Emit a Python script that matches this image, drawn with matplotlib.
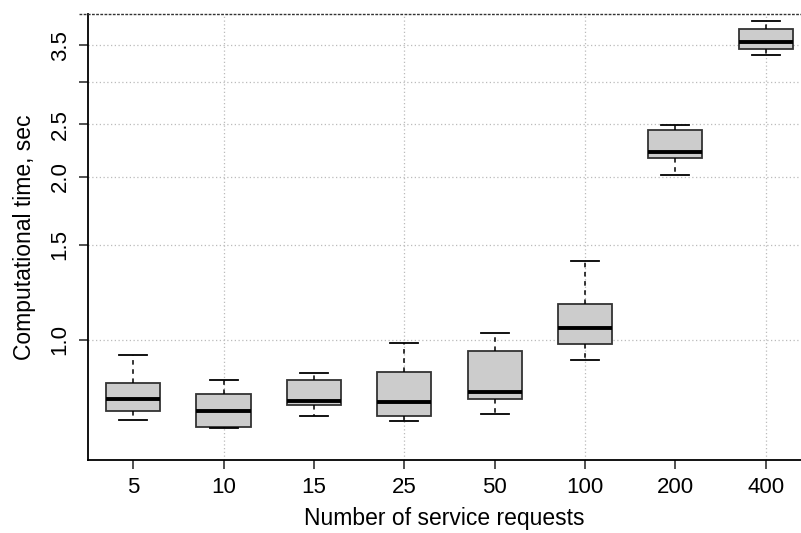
import matplotlib
matplotlib.use("Agg")
import matplotlib.pyplot as plt
from matplotlib.lines import Line2D
from matplotlib.ticker import NullLocator, FixedLocator

plt.rcParams['font.family'] = ['Liberation Sans', 'DejaVu Sans']

# number of service requests (categories)
requests = ["5", "10", "15", "25", "50", "100", "200", "400"]

# box statistics (seconds)
whisk_lo = [0.711, 0.688, 0.722, 0.709, 0.731, 0.920, 2.013, 3.359]
q1 = [0.740, 0.689, 0.757, 0.725, 0.779, 0.984, 2.167, 3.454]
medians = [0.779, 0.740, 0.772, 0.769, 0.800, 1.052, 2.220, 3.550]
q3 = [0.834, 0.793, 0.845, 0.872, 0.953, 1.163, 2.437, 3.760]
whisk_hi = [0.936, 0.844, 0.869, 0.987, 1.031, 1.398, 2.492, 3.890]

y_ticks = [1.0, 1.5, 2.0, 2.5, 3.0, 3.5]
y_labels = ["1.0", "1.5", "2.0", "2.5", "", "3.5"]

stats = []
for i in range(len(requests)):
    stats.append({
        "label": requests[i],
        "whislo": whisk_lo[i],
        "q1": q1[i],
        "med": medians[i],
        "q3": q3[i],
        "whishi": whisk_hi[i],
        "fliers": [],
    })

fig = plt.figure(figsize=(8.01, 5.33), dpi=100)
ax = fig.add_axes([88 / 801, 1 - 460 / 533, 1 - 88 / 801, (460 - 14) / 533])

ax.set_yscale('log')
ax.set_ylim(0.6, 4.0)
ax.set_xlim(0.5, 8.39)

# grid first so boxes sit on top
for y in y_ticks:
    ax.axhline(y, color='#bbbbbb', lw=0.9, ls=(0, (1, 2)), zorder=0)
for x in [2, 4, 6, 8]:
    ax.axvline(x, color='#bbbbbb', lw=0.9, ls=(0, (1, 2)), zorder=0)

positions = list(range(1, len(requests) + 1))
ax.bxp(stats, positions=positions, widths=0.6, patch_artist=True,
       showfliers=False,
       boxprops=dict(facecolor='#cccccc', edgecolor='#333333', lw=1.3),
       medianprops=dict(color='black', lw=2.8, solid_capstyle='butt'),
       whiskerprops=dict(color='black', lw=1.1, ls=(0, (3, 3))),
       capprops=dict(color='black', lw=1.3),
       capwidths=0.31, zorder=3)

ax.yaxis.set_major_locator(FixedLocator(y_ticks))
ax.yaxis.set_minor_locator(NullLocator())
ax.set_yticklabels(y_labels, rotation=90, va='center')
ax.set_xticks(positions)
ax.set_xticklabels(requests)

ax.tick_params(axis='both', direction='out', length=6.5, width=1.1,
               labelsize=16, color='#222222')
ax.tick_params(axis='y', pad=6)
ax.tick_params(axis='x', pad=6)

ax.spines['right'].set_visible(False)
ax.spines['top'].set_visible(False)
ax.spines['left'].set_linewidth(1.3)
ax.spines['bottom'].set_linewidth(1.3)

# dashed top border line
fig.add_artist(Line2D([79 / 801, 1.0], [1 - 14 / 533, 1 - 14 / 533],
                      color='#333333', lw=1.0, ls=(0, (2, 1)),
                      transform=fig.transFigure))

ax.set_xlabel("Number of service requests", fontsize=16.5, labelpad=6)
ax.set_ylabel("Computational time, sec", fontsize=16.5, labelpad=10)

fig.savefig("out.png", dpi=100)
